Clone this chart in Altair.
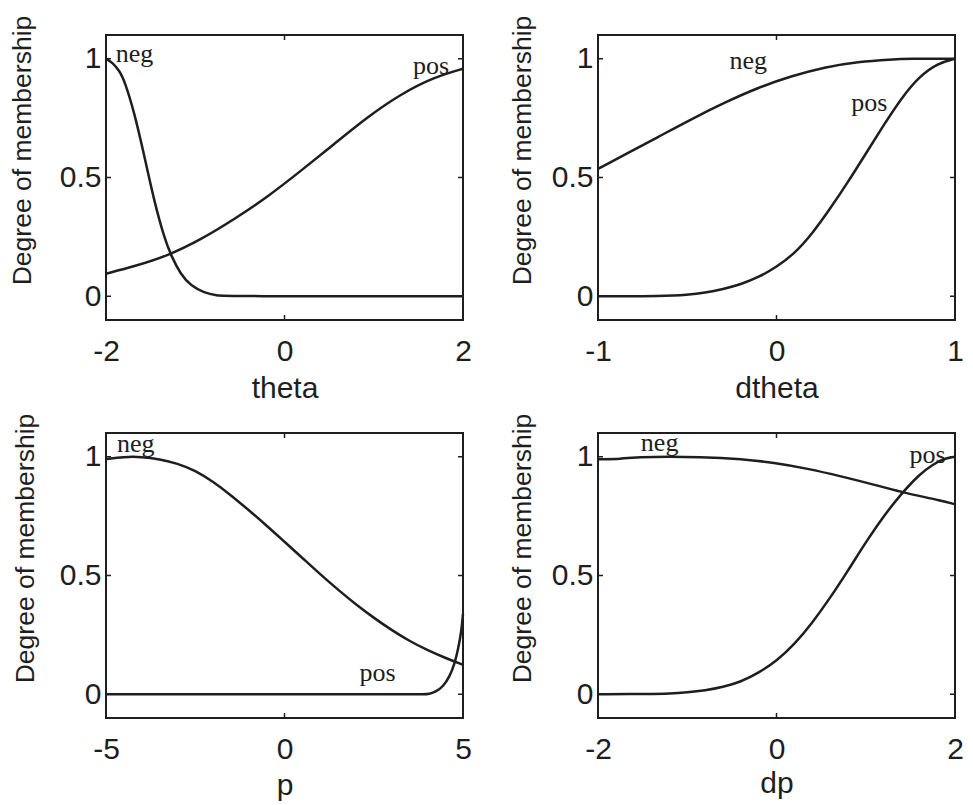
import altair as alt
import pandas as pd

INK = "#1e1e1e"
W, H = 357, 285
Y_DOMAIN = [-0.1, 1.1]
y_ticks = [0, 0.5, 1]

# theta
theta_ticks = [-2, 0, 2]
theta_neg_x = [-2.0, -1.93, -1.85, -1.79, -1.68, -1.57, -1.46, -1.35, -1.27, -1.16, -1.05, -0.9, -0.75, -0.67, 2.0]
theta_neg_y = [1.0, 0.985, 0.95, 0.905, 0.77, 0.59, 0.40, 0.25, 0.17, 0.09, 0.045, 0.014, 0.003, 0.0, 0.0]
theta_pos_x = [-2.0, -1.68, -1.31, -0.93, -0.56, -0.19, 0.19, 0.56, 0.93, 1.31, 1.68, 2.0]
theta_pos_y = [0.095, 0.126, 0.17, 0.24, 0.325, 0.418, 0.53, 0.642, 0.755, 0.853, 0.923, 0.958]

# dtheta
dtheta_ticks = [-1, 0, 1]
dtheta_neg_x = [-1.0, -0.854, -0.667, -0.479, -0.292, -0.105, 0.082, 0.27, 0.457, 0.644, 0.74, 1.0]
dtheta_neg_y = [0.536, 0.595, 0.669, 0.745, 0.815, 0.878, 0.927, 0.965, 0.987, 0.997, 1.0, 1.0]
dtheta_pos_x = [-1.0, -0.63, -0.5, -0.4, -0.3, -0.2, -0.1, 0.0, 0.1, 0.2, 0.3, 0.4, 0.5, 0.6, 0.7, 0.8, 0.9, 1.0]
dtheta_pos_y = [0.0, 0.0, 0.006, 0.015, 0.03, 0.05, 0.08, 0.123, 0.179, 0.263, 0.368, 0.48, 0.6, 0.72, 0.835, 0.925, 0.98, 1.0]

# p
p_ticks = [-5, 0, 5]
p_neg_x = [-5.0, -4.5, -4.0, -3.5, -3.0, -2.5, -2.0, -1.5, -1.0, -0.5, 0.0, 0.5, 1.0,
           1.5, 2.0, 2.5, 3.0, 3.5, 4.0, 4.5, 5.0]
p_neg_y = [0.99, 1.0, 1.0, 0.99, 0.972, 0.942, 0.895, 0.838, 0.775, 0.71, 0.642, 0.574, 0.505,
           0.44, 0.378, 0.322, 0.27, 0.224, 0.186, 0.153, 0.124]
p_pos_x = [-5.0, 3.5, 3.9, 4.05, 4.25, 4.44, 4.63, 4.77, 4.86, 4.95, 5.0]
p_pos_y = [0.0, 0.0, 0.0, 0.001, 0.011, 0.032, 0.075, 0.131, 0.188, 0.258, 0.34]

# dp
dp_ticks = [-2, 0, 2]
dp_neg_x = [-2.0, -1.72, -1.65, -0.77, -0.4, -0.03, 0.35, 0.72, 1.1, 1.47, 1.84, 2.0]
dp_neg_y = [0.99, 0.99, 1.0, 1.0, 0.99, 0.976, 0.95, 0.918, 0.882, 0.844, 0.816, 0.8]
dp_pos_x = [-2.0, -1.4, -1.2, -1.0, -0.8, -0.6, -0.4, -0.2, 0.0, 0.2, 0.4, 0.6, 0.8, 1.0,
            1.2, 1.4, 1.6, 1.75, 1.9, 2.0]
dp_pos_y = [0.0, 0.001, 0.003, 0.008, 0.016, 0.03, 0.052, 0.09, 0.14, 0.21, 0.3, 0.405, 0.52, 0.64,
            0.75, 0.845, 0.925, 0.968, 0.995, 1.0]

# set-name annotations: (x, y) of the text's left baseline point
label_names = ["neg", "pos"]
theta_label_x, theta_label_y = [-1.89, 1.44], [0.986, 0.937]
dtheta_label_x, dtheta_label_y = [-0.264, 0.419], [0.958, 0.778]
p_label_x, p_label_y = [-4.69, 2.10], [1.021, 0.054]
dp_label_x, dp_label_y = [-1.52, 1.49], [1.024, 0.972]


def panel(name, ticks, neg_x, neg_y, pos_x, pos_y, lab_x, lab_y, title_x, title_y):
    domain = [ticks[0], ticks[-1]]
    xs = alt.Scale(domain=domain, nice=False, zero=False)
    ys = alt.Scale(domain=Y_DOMAIN, nice=False, zero=False)

    curves = pd.concat([
        pd.DataFrame({"x": neg_x, "y": neg_y, "set": "neg"}),
        pd.DataFrame({"x": pos_x, "y": pos_y, "set": "pos"}),
    ])
    labels = pd.DataFrame({"x": lab_x, "y": lab_y, "label": label_names})
    xt = pd.DataFrame({"x": ticks})
    yt = pd.DataFrame({"y": y_ticks})

    common_axis = dict(domain=False, ticks=False, grid=False, labelFont="Liberation Sans",
                       labelColor=INK, labelFlush=False, labelOverlap=False,
                       labelExpr="datum.value + ''", titleFont="Liberation Sans",
                       titleFontWeight="normal", titleColor=INK, titleBaseline="alphabetic")
    x_axis = alt.Axis(values=ticks, title=name, labelFontSize=30, labelPadding=16,
                      titleFontSize=30, titleY=title_y, **common_axis)
    y_axis = alt.Axis(values=y_ticks, title="Degree of membership", labelFontSize=30,
                      labelPadding=5, titleFontSize=26.5, titleAngle=270, titleAlign="center",
                      titleX=title_x, titleY=115, **common_axis)
    X = alt.X("x:Q", scale=xs, axis=x_axis)
    Y = alt.Y("y:Q", scale=ys, axis=y_axis)

    lines = alt.Chart(curves).mark_line(interpolate="basis", color=INK, strokeWidth=2.5).encode(
        x=X, y=Y, detail="set:N")

    text = alt.Chart(labels).mark_text(font="Liberation Serif", fontSize=26, color=INK,
                                       align="left", baseline="alphabetic").encode(
        x=X, y=Y, text="label:N")

    # inward tick marks on all four sides of the box
    tick_style = dict(color=INK, strokeWidth=1.5)
    bottom_ticks = alt.Chart(xt).mark_rule(**tick_style).encode(
        x=X, y=alt.value(H), y2=alt.value(H - 5))
    top_ticks = alt.Chart(xt).mark_rule(**tick_style).encode(
        x=X, y=alt.value(0), y2=alt.value(5))
    left_ticks = alt.Chart(yt).mark_rule(**tick_style).encode(
        y=Y, x=alt.value(0), x2=alt.value(5))
    right_ticks = alt.Chart(yt).mark_rule(**tick_style).encode(
        y=Y, x=alt.value(W), x2=alt.value(W - 5))

    return alt.layer(lines, text, bottom_ticks, top_ticks, left_ticks, right_ticks).properties(
        width=W, height=H)


p1 = panel("theta", theta_ticks, theta_neg_x, theta_neg_y, theta_pos_x, theta_pos_y,
           theta_label_x, theta_label_y, -76, 77)
p2 = panel("dtheta", dtheta_ticks, dtheta_neg_x, dtheta_neg_y, dtheta_pos_x, dtheta_pos_y,
           dtheta_label_x, dtheta_label_y, -68, 77)
p3 = panel("p", p_ticks, p_neg_x, p_neg_y, p_pos_x, p_pos_y, p_label_x, p_label_y, -73, 76)
p4 = panel("dp", dp_ticks, dp_neg_x, dp_neg_y, dp_pos_x, dp_pos_y, dp_label_x, dp_label_y, -68, 74)

# 2 x 2 grid; spacing measured between the plot frames themselves
chart = alt.concat(
    p1, p2, p3, p4,
    columns=2,
    spacing={"row": 113, "column": 135},
    bounds="flush",
).properties(
    padding={"left": 7, "top": 14, "right": 0, "bottom": 0},
    background="white",
).configure_view(stroke=INK, strokeWidth=2)

chart.save("out.html", embed_options={"renderer": "svg", "actions": False})
